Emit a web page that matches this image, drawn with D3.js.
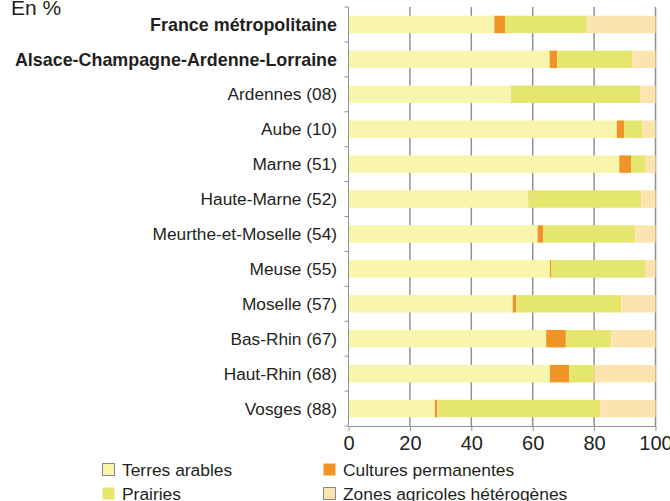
<!DOCTYPE html>
<html lang="fr">
<head>
    <meta charset="UTF-8">
    <title>Occupation agricole</title>
    <script src="https://d3js.org/d3.v7.min.js"></script>
    <style>
        body {margin: 0; background: #fff;}
        svg {display: block; font-family: "Liberation Sans", Arial, sans-serif;}
    </style>
</head>
<body>
<script>
    const width = 670;
    const height = 501;

    // data (percent)
    const regions = ["France métropolitaine", "Alsace-Champagne-Ardenne-Lorraine", "Ardennes (08)", "Aube (10)",
        "Marne (51)", "Haute-Marne (52)", "Meurthe-et-Moselle (54)", "Meuse (55)", "Moselle (57)",
        "Bas-Rhin (67)", "Haut-Rhin (68)", "Vosges (88)"];
    const boldRegions = ["France métropolitaine", "Alsace-Champagne-Ardenne-Lorraine"];
    const terres   = [47.5, 65.5, 53.1, 87.4, 88.2, 58.6, 61.6, 65.6, 53.5, 64.4, 65.6, 28.1];
    const cultures = [ 3.5,  2.5,  0.1,  2.4,  3.9,  0.1,  1.8,  0.4,  1.1,  6.4,  6.3,  0.8];
    const prairies = [26.6, 24.4, 41.9,  5.9,  4.5, 36.7, 30.0, 30.6, 34.2, 14.8,  8.2, 53.1];
    const zones    = [22.4,  7.6,  4.9,  4.3,  3.4,  4.6,  6.6,  3.4, 11.2, 14.4, 19.9, 18.0];
    const seriesNames = ["Terres arables", "Cultures permanentes", "Prairies", "Zones agricoles hétérogènes"];
    const xTicks = [0, 20, 40, 60, 80, 100];

    const colors = {
        "Terres arables": "#f8f6ac",
        "Cultures permanentes": "#f19428",
        "Prairies": "#e4e66e",
        "Zones agricoles hétérogènes": "#fde4af"
    };

    const table = regions.map((r, i) => ({
        region: r,
        "Terres arables": terres[i],
        "Cultures permanentes": cultures[i],
        "Prairies": prairies[i],
        "Zones agricoles hétérogènes": zones[i]
    }));

    const stack = d3.stack().keys(seriesNames)(table);

    const svg = d3.select("body").append("svg")
            .attr("width", width).attr("height", height);

    const x = d3.scaleLinear().domain([0, 100]).range([348.5, 655.5]);
    const y = d3.scaleBand().domain(regions).range([7, 426]).paddingInner(0.5).paddingOuter(0.25);

    // gridlines
    svg.append("g")
            .selectAll("line")
            .data(xTicks.slice(1))
            .join("line")
            .attr("x1", d => x(d)).attr("x2", d => x(d))
            .attr("y1", 7).attr("y2", 426)
            .style("stroke", "#919191")
            .style("stroke-width", 1.5);

    // bars
    svg.append("g")
            .selectAll("g")
            .data(stack)
            .join("g")
            .style("fill", d => colors[d.key])
            .selectAll("rect")
            .data(d => d)
            .join("rect")
            .attr("x", d => x(d[0]))
            .attr("width", d => x(d[1]) - x(d[0]))
            .attr("y", d => y(d.data.region))
            .attr("height", y.bandwidth());

    // y axis
    const yAxis = svg.append("g");
    yAxis.append("line")
            .attr("x1", x(0)).attr("x2", x(0))
            .attr("y1", 7).attr("y2", 426)
            .style("stroke", "#919191").style("stroke-width", 1);
    const step = y.step();
    yAxis.selectAll("line.tick")
            .data(d3.range(regions.length + 1))
            .join("line").attr("class", "tick")
            .attr("x1", x(0) - 4).attr("x2", x(0))
            .attr("y1", i => 7 + i * step).attr("y2", i => 7 + i * step)
            .style("stroke", "#919191").style("stroke-width", 1);
    yAxis.selectAll("text")
            .data(regions)
            .join("text")
            .attr("x", 337)
            .attr("y", d => y(d) + y.bandwidth() / 2)
            .attr("dy", "0.35em")
            .attr("text-anchor", "end")
            .style("font-size", d => boldRegions.includes(d) ? "17.9px" : "17.3px")
            .style("font-weight", d => boldRegions.includes(d) ? "bold" : "normal")
            .style("fill", "#231f20")
            .text(d => d);

    // x axis
    const xAxis = svg.append("g").attr("transform", "translate(0,426)")
            .call(d3.axisBottom(x).tickValues(xTicks).tickSize(5).tickSizeOuter(0).tickPadding(5));
    xAxis.select(".domain").style("stroke", "#919191");
    xAxis.selectAll(".tick line").style("stroke", "#919191");
    xAxis.selectAll(".tick text")
            .style("font-size", "20px")
            .style("font-family", "Liberation Sans, Arial, sans-serif")
            .style("fill", "#231f20");

    // unit
    svg.append("text")
            .attr("x", 11).attr("y", 15)
            .style("font-size", "21px")
            .style("fill", "#231f20")
            .text("En %");

    // legend
    const legendPos = [[102, 463], [323, 463], [102, 487], [323, 487]];
    const legend = svg.append("g")
            .selectAll("g")
            .data(seriesNames)
            .join("g")
            .attr("transform", (d, i) => `translate(${legendPos[i][0]},${legendPos[i][1]})`);
    legend.append("rect")
            .attr("x", 0.5).attr("y", 0.5)
            .attr("width", 12).attr("height", 12)
            .style("fill", d => colors[d])
            .style("stroke", d => d === "Terres arables" || d === "Zones agricoles hétérogènes" ? "#8a8a8a" : "none")
            .style("stroke-width", 1);
    legend.append("text")
            .attr("x", 20).attr("y", 12.5)
            .style("font-size", "17.4px")
            .style("fill", "#231f20")
            .text(d => d);
</script>
</body>
</html>
